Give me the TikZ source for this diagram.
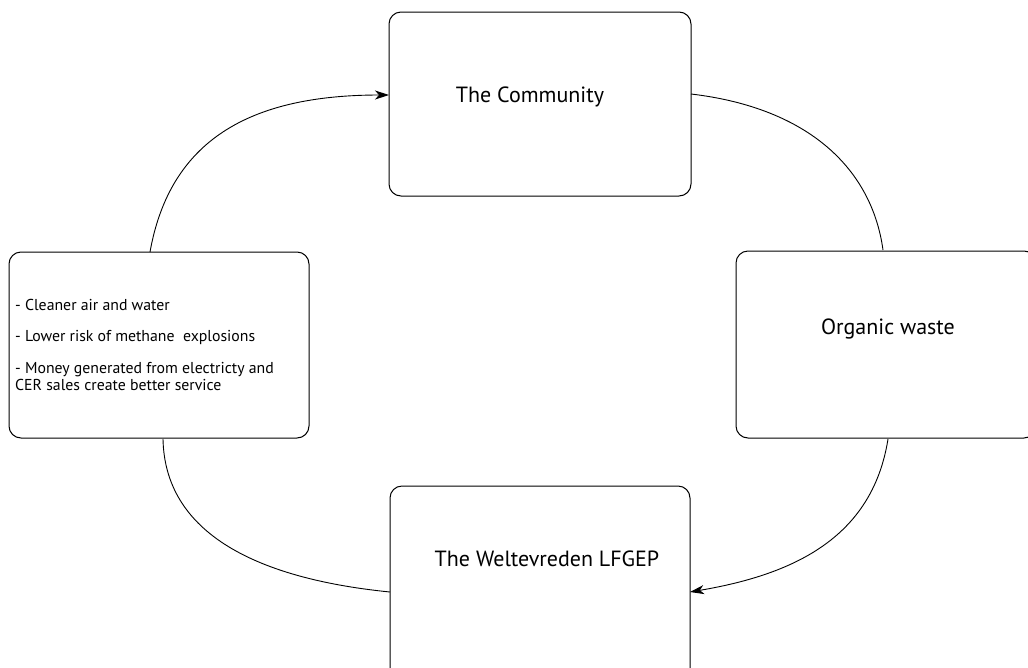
\documentclass[tikz,border=0pt]{standalone}
\usepackage{fontspec}
\setmainfont{PT Sans}
\usetikzlibrary{arrows.meta}
\begin{document}
\begin{tikzpicture}[x=1pt,y=-1pt,
  box/.style={draw=black,line width=1pt,rounded corners=12pt,inner sep=0pt},
  conn/.style={line width=0.9pt,black},
  tip/.style={-{Stealth[length=14pt,width=9pt,inset=4pt]}},
  bigtxt/.style={font=\fontsize{22}{26}\selectfont,inner sep=0pt},
  smalltxt/.style={font=\fontsize{15.8}{17.5}\selectfont,inner sep=0pt,align=left,anchor=north west}]
\useasboundingbox (0,0) rectangle (1028,667);
\clip (0,0) rectangle (1028,667);
% boxes
\node[box,minimum width=302pt,minimum height=184pt] (comm) at (540,104) {};
\node[box,minimum width=300pt,minimum height=187pt] (org) at (886,344.5) {};
\node[box,minimum width=300pt,minimum height=200pt] (lfg) at (540,586) {};
\node[box,minimum width=300pt,minimum height=186pt] (ben) at (159,345) {};
% texts
\node[bigtxt] (tcomm) at (530,97) {The Community};
\node[bigtxt] (torg) at (888,329) {Organic waste};
\node[bigtxt] (tlfg) at (547,559) {The Weltevreden LFGEP};
\node[smalltxt] (tben) at (15,299) {- Cleaner air and water\\[14pt]
- Lower risk of methane\ \ explosions\\[14pt]
- Money generated from electricty and\\
CER sales create better service};
% anchor coordinates
\coordinate (a1) at (150,252);
\coordinate (a2) at (389,95);
\coordinate (b1) at (691,94);
\coordinate (b2) at (883,250);
\coordinate (c1) at (888,439);
\coordinate (c2) at (690,592);
\coordinate (d1) at (390,592);
\coordinate (d2) at (163,439);
% connectors
\draw[conn,tip] (a1) .. controls (170,140) and (250,95) .. (a2);
\draw[conn] (b1) .. controls (810,108) and (872,170) .. (b2);
\draw[conn,tip] (c1) .. controls (872,540) and (790,575) .. (c2);
\draw[conn] (d1) .. controls (270,580) and (165,540) .. (d2);
\end{tikzpicture}
\end{document}
